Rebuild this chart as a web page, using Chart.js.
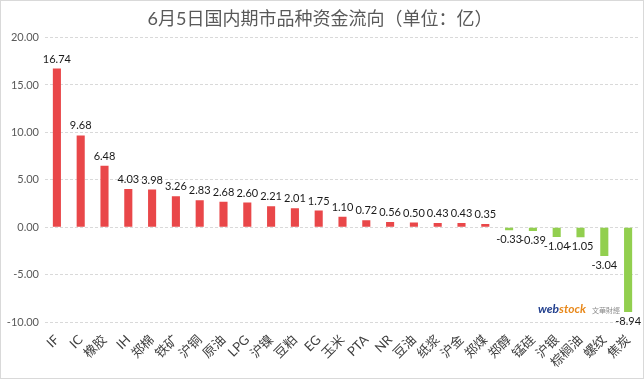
<!DOCTYPE html>
<html>
<head>
<meta charset="utf-8">
<script src="https://cdn.jsdelivr.net/npm/chart.js@4"></script>
<style>
  html, body { margin: 0; padding: 0; background: #fff; }
  #wrap { width: 644px; height: 379px; }
</style>
</head>
<body>
<div id="wrap"><canvas id="myChart" width="644" height="379"></canvas></div>
<script>
const categories = ['IF', 'IC', '橡胶', 'IH', '郑棉', '铁矿', '沪铜', '原油', 'LPG', '沪镍', '豆粕', 'EG', '玉米',
  'PTA', 'NR', '豆油', '纸浆', '沪金', '郑煤', '郑醇', '锰硅', '沪银', '棕榈油', '螺纹', '焦炭']
const flows = [16.74, 9.68, 6.48, 4.03, 3.98, 3.26, 2.83, 2.68, 2.60, 2.21, 2.01, 1.75, 1.10,
  0.72, 0.56, 0.50, 0.43, 0.43, 0.35, -0.33, -0.39, -1.04, -1.05, -3.04, -8.94]
const yTicks = [-10, -5, 0, 5, 10, 15, 20]

const FONT = "Lato, 'Noto Sans CJK SC', sans-serif"

// value labels above / below each bar
const valueLabels = {
  id: 'valueLabels',
  afterDatasetsDraw(chart) {
    const ctx = chart.ctx
    const meta = chart.getDatasetMeta(0)
    ctx.save()
    ctx.font = '11px ' + FONT
    ctx.fillStyle = '#1a1a1a'
    ctx.textAlign = 'center'
    meta.data.forEach((bar, i) => {
      const v = flows[i]
      if (v >= 0) {
        ctx.textBaseline = 'bottom'
        ctx.fillText(v.toFixed(2), bar.x, bar.y - 4)
      } else {
        ctx.textBaseline = 'top'
        ctx.fillText(v.toFixed(2), bar.x, bar.y + 4)
      }
    })
    ctx.restore()
  }
}

// frame + watermark
const extras = {
  id: 'extras',
  afterDraw(chart) {
    const ctx = chart.ctx
    ctx.save()
    ctx.strokeStyle = '#d9d9d9'
    ctx.lineWidth = 1
    ctx.strokeRect(0.5, 0.5, chart.width - 1, chart.height - 1)

    ctx.textBaseline = 'alphabetic'
    ctx.textAlign = 'left'
    ctx.font = 'bold italic 12px ' + FONT
    ctx.fillStyle = '#23408e'
    ctx.fillText('web', 538, 313)
    const w = ctx.measureText('web').width
    ctx.fillStyle = '#e8891c'
    ctx.fillText('stock', 538 + w, 313)
    ctx.font = '7px ' + FONT
    ctx.fillStyle = '#8c8c8c'
    ctx.fillText('文華財經', 592, 313)
    ctx.restore()
  }
}

const ctx = document.getElementById('myChart').getContext('2d')
const chart = new Chart(ctx, {
  type: 'bar',
  data: {
    labels: categories,
    datasets: [{
      label: '资金流向',
      data: flows,
      backgroundColor: flows.map(v => v >= 0 ? '#e94749' : '#92cf4f'),
      categoryPercentage: 1,
      barPercentage: 0.34
    }]
  },
  options: {
    responsive: false,
    animation: false,
    layout: { padding: { left: 0, right: 4, top: 0, bottom: 0 } },
    plugins: {
      legend: { display: false },
      tooltip: { enabled: false },
      title: {
        display: true,
        text: '6月5日国内期市品种资金流向（单位：亿）',
        color: '#595959',
        font: { family: FONT, size: 18, weight: 'normal' },
        padding: { top: 8, bottom: 8 }
      }
    },
    scales: {
      x: {
        grid: { display: false },
        border: { display: false },
        ticks: {
          color: '#404040',
          font: { family: FONT, size: 13 },
          minRotation: 45,
          maxRotation: 45,
          padding: 2,
          autoSkip: false
        },
        afterFit: s => { s.height = 57 }
      },
      y: {
        min: -10,
        max: 20,
        afterBuildTicks: s => { s.ticks = yTicks.map(v => ({ value: v })) },
        border: { display: false, dash: [3, 2] },
        grid: {
          drawTicks: false,
          color: '#d9d9d9',
          lineWidth: 1
        },
        ticks: {
          color: '#595959',
          font: { family: FONT, size: 11 },
          padding: 6,
          callback: v => v.toFixed(2)
        },
        afterFit: s => { s.width = 45 }
      }
    }
  },
  plugins: [valueLabels, extras]
})
</script>
</body>
</html>
